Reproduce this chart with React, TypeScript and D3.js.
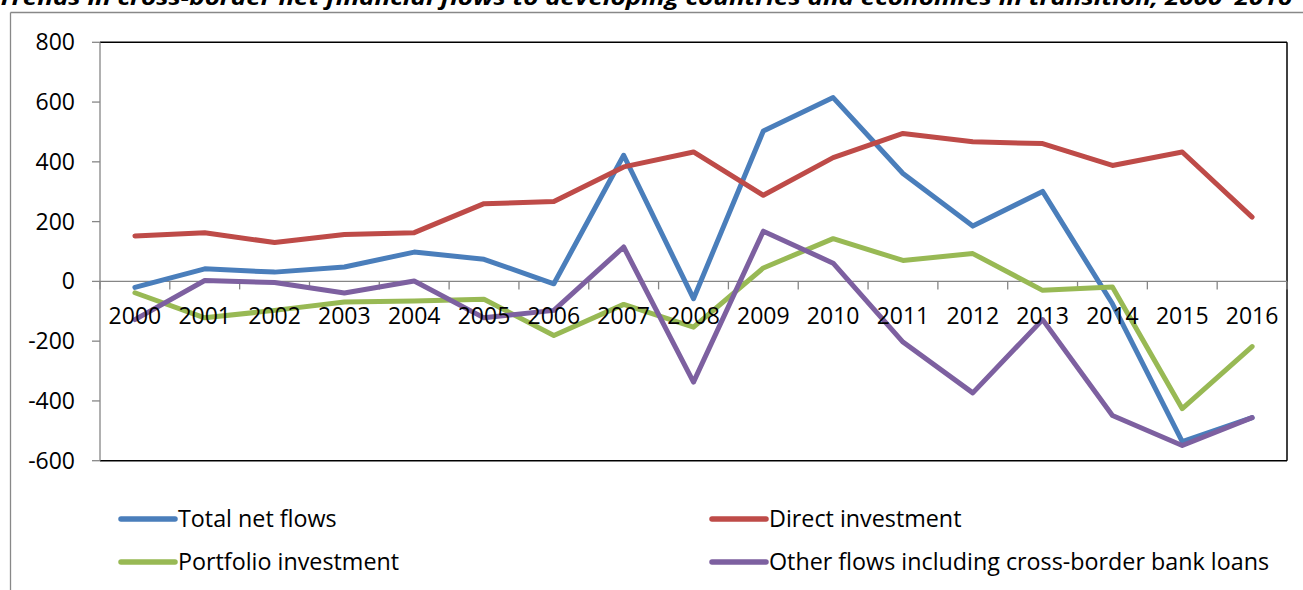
import React from "react";
import * as d3 from "d3";

const years = ["2000","2001","2002","2003","2004","2005","2006","2007","2008","2009","2010","2011","2012","2013","2014","2015","2016"];
const totalNetFlows = [-20, 42, 31, 48, 98, 74, -8, 422, -58, 503, 615, 361, 185, 301, -75, -536, -456];
const directInvestment = [152, 163, 130, 157, 163, 260, 267, 383, 433, 288, 414, 495, 467, 461, 388, 433, 215];
const portfolioInvestment = [-38, -122, -97, -69, -66, -60, -181, -77, -153, 45, 143, 70, 93, -30, -19, -426, -218];
const otherFlows = [-128, 3, -4, -39, 1, -122, -97, 115, -337, 168, 61, -203, -373, -128, -449, -549, -456];
const yTicks = [-600, -400, -200, 0, 200, 400, 600, 800];
const seriesNames = ["Total net flows", "Direct investment", "Portfolio investment", "Other flows including cross-border bank loans"];
const seriesColors = ["#4A7EBB", "#BE4B48", "#98B954", "#7D60A0"];
const title = "Trends in cross-border net financial flows to developing countries and economies in transition, 2000\u20132016";

export default function App() {
  const W = 1303, H = 590;
  const left = 100, right = 1287, top = 42.3, bottom = 460.7;
  const x = d3.scaleBand<string>().domain(years).range([left, right]).paddingInner(0).paddingOuter(0);
  const y = d3.scaleLinear().domain([-600, 800]).range([bottom, top]);
  const data = [totalNetFlows, directInvestment, portfolioInvestment, otherFlows];
  const line = d3.line<number>()
    .x((_, i) => (x(years[i]) as number) + x.bandwidth() / 2)
    .y((d) => y(d));
  const font = "'Open Sans', sans-serif";
  const legendPos = [
    { lx: 121, ty: 519 },
    { lx: 712, ty: 519 },
    { lx: 121, ty: 562 },
    { lx: 712, ty: 562 },
  ];
  const boundaries = years.map((yr) => x(yr) as number).concat([right]);
  return (
    <svg width={W} height={H} style={{ position: "fixed", left: 0, top: 0, background: "#fff" }} fontFamily={font}>
      <rect x={0} y={0} width={W} height={H} fill="#fff" />
      {/* outer chart frame */}
      <line x1={10.5} y1={12.5} x2={W + 5} y2={12.5} stroke="#888" strokeWidth={1.3} />
      <line x1={10.5} y1={12.5} x2={10.5} y2={H + 5} stroke="#888" strokeWidth={1.3} />
      {/* title (cropped at the top edge, as in the reference) */}
      <text x={-2} y={4.5} fontSize={22} fontWeight="bold" fontStyle="italic" textLength={1294} lengthAdjust="spacingAndGlyphs" fill="#000">{title}</text>
      {/* plot area border */}
      <line x1={left} y1={top} x2={right} y2={top} stroke="#000" strokeWidth={1.5} />
      <line x1={right} y1={top} x2={right} y2={bottom} stroke="#000" strokeWidth={1.5} />
      <line x1={left} y1={bottom} x2={right} y2={bottom} stroke="#000" strokeWidth={1.5} />
      {/* y axis */}
      <line x1={left} y1={top} x2={left} y2={bottom} stroke="#868686" strokeWidth={1.3} />
      {yTicks.map((t) => (
        <g key={t}>
          <line x1={left - 8} x2={left} y1={y(t)} y2={y(t)} stroke="#868686" strokeWidth={1.3} />
          <text x={75} y={y(t) + 8} textAnchor="end" fontSize={23} fill="#000">{t}</text>
        </g>
      ))}
      {/* x axis at zero */}
      <line x1={left} y1={y(0)} x2={right} y2={y(0)} stroke="#868686" strokeWidth={1.3} />
      {boundaries.map((b, i) => (
        <line key={i} x1={b} x2={b} y1={y(0)} y2={y(0) + 8} stroke="#868686" strokeWidth={1.3} />
      ))}
      {/* series */}
      {data.map((d, i) => (
        <path key={i} d={line(d) as string} fill="none" stroke={seriesColors[i]} strokeWidth={5} strokeLinejoin="round" strokeLinecap="round" />
      ))}
      {/* x labels drawn on top of lines */}
      {years.map((yr) => (
        <text key={yr} x={(x(yr) as number) + x.bandwidth() / 2} y={324} textAnchor="middle" fontSize={23} fill="#000">{yr}</text>
      ))}
      {/* legend */}
      {seriesNames.map((n, i) => (
        <g key={n}>
          <line x1={legendPos[i].lx} x2={legendPos[i].lx + 54} y1={legendPos[i].ty} y2={legendPos[i].ty} stroke={seriesColors[i]} strokeWidth={5.5} strokeLinecap="round" />
          <text x={legendPos[i].lx + 57} y={legendPos[i].ty + 8} fontSize={23.3} fill="#000">{n}</text>
        </g>
      ))}
    </svg>
  );
}
